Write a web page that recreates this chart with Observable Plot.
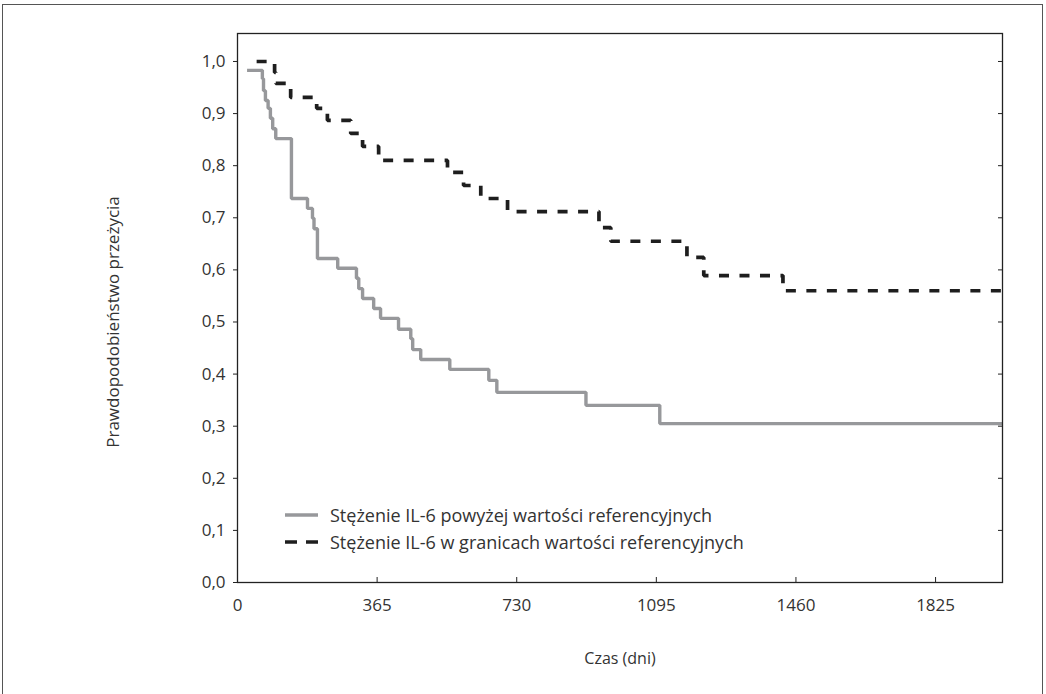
<!DOCTYPE html>
<html>
<head>
<meta charset="utf-8">
<script src="https://cdn.jsdelivr.net/npm/d3@7"></script>
<script src="https://cdn.jsdelivr.net/npm/@observablehq/plot@0.6"></script>
<style>
  html, body { margin: 0; padding: 0; background: #fff; overflow: hidden; }
  #wrap { position: relative; width: 1046px; height: 694px; }
  #border { position: absolute; left: 2px; top: 4px; width: 1041px; height: 720px; border: 1px solid #555; box-sizing: border-box; pointer-events: none; }
  #legend { position: absolute; left: 285px; top: 501px; font-family: "Open Sans", sans-serif; font-size: 18px; color: #333; }
  #legend .row { display: flex; align-items: center; height: 27px; }
  #legend svg { margin-right: 12px; }
</style>
</head>
<body>
<div id="wrap">
  <div id="chart"></div>
  <div id="legend"></div>
  <div id="border"></div>
</div>
<script>
// Time in days and survival probability
const aboveTimes  = [25, 65, 68, 73, 80, 86, 92, 100, 141, 183, 196, 200, 209, 262, 311, 317, 327, 356, 374, 421, 453, 458, 479, 555, 657, 678, 911, 1104, 2000];
const aboveValues = [0.983, 0.967, 0.944, 0.925, 0.910, 0.891, 0.871, 0.852, 0.737, 0.718, 0.699, 0.679, 0.622, 0.603, 0.584, 0.564, 0.545, 0.526, 0.507, 0.486, 0.468, 0.447, 0.428, 0.409, 0.388, 0.365, 0.340, 0.305, 0.305];

const normTimes  = [50, 97, 100, 139, 207, 235, 296, 327, 369, 549, 591, 636, 706, 945, 976, 1175, 1219, 1426, 2000];
const normValues = [1.000, 0.979, 0.958, 0.931, 0.910, 0.887, 0.862, 0.837, 0.810, 0.787, 0.762, 0.737, 0.712, 0.681, 0.655, 0.624, 0.589, 0.560, 0.560];

const seriesNames = ["Stężenie IL-6 powyżej wartości referencyjnych", "Stężenie IL-6 w granicach wartości referencyjnych"];
const xTicks = [0, 365, 730, 1095, 1460, 1825];
const yTicks = [0, 0.1, 0.2, 0.3, 0.4, 0.5, 0.6, 0.7, 0.8, 0.9, 1.0];
const xTitle = "Czas (dni)";
const yTitle = "Prawdopodobieństwo przeżycia";

const above = aboveTimes.map((t, i) => ({t, s: aboveValues[i]}));
const norm  = normTimes.map((t, i) => ({t, s: normValues[i]}));

const greyColor = "#97989b";
const darkColor = "#1e1e1e";
const fmt = d => d.toFixed(1).replace(".", ",");

const chart = Plot.plot({
  width: 1046,
  height: 694,
  marginLeft: 237,
  marginRight: 44,
  marginTop: 33,
  marginBottom: 112,
  style: { fontFamily: "Open Sans, sans-serif", fontSize: "17px", color: "#333", background: "transparent" },
  x: { domain: [0, 2000], label: null },
  y: { domain: [0, 1.0537], label: null },
  marks: [
    Plot.line(above, { x: "t", y: "s", curve: "step-after", stroke: greyColor, strokeWidth: 3.4, strokeLinejoin: "miter", strokeLinecap: "butt" }),
    Plot.line(norm, { x: "t", y: "s", curve: "step-after", stroke: darkColor, strokeWidth: 3.7, strokeDasharray: "10,10.5", strokeLinejoin: "miter", strokeLinecap: "butt" }),
    Plot.frame({ stroke: "#222", strokeWidth: 1.3 }),
    Plot.axisY(yTicks, { label: null, tickSize: 4, tickPadding: 8, tickFormat: fmt, stroke: "#222", fill: "#333", fontSize: 17 }),
    Plot.ruleY(yTicks, { y: d => d, insetLeft: 761, stroke: "#222" }),
    Plot.axisX(xTicks, { label: null, tickSize: 0, tickPadding: 16, tickFormat: d => String(d), fill: "#333", fontSize: 17 }),
    Plot.ruleX(xTicks, { x: d => d, insetTop: 544, stroke: "#222" }),
    Plot.text([yTitle], { frameAnchor: "left", textAnchor: "middle", dx: -124, dy: 14, rotate: -90, fontSize: 17, fill: "#333" }),
    Plot.text([xTitle], { frameAnchor: "bottom", textAnchor: "middle", dy: 81, fontSize: 16, fill: "#333" })
  ]
});
document.getElementById("chart").appendChild(chart);

// Legend (inside the plot area, bottom-left)
const legend = document.getElementById("legend");
const styles = [
  { stroke: greyColor, width: 3.4, dash: null },
  { stroke: darkColor, width: 3.7, dash: "12,9" }
];
seriesNames.forEach((name, i) => {
  const row = document.createElement("div");
  row.className = "row";
  const st = styles[i];
  row.innerHTML = `<svg width="33" height="10"><line x1="0" x2="33" y1="5" y2="5" stroke="${st.stroke}" stroke-width="${st.width}" ${st.dash ? `stroke-dasharray="${st.dash}"` : ""}/></svg><span>${name}</span>`;
  legend.appendChild(row);
});
</script>
</body>
</html>
